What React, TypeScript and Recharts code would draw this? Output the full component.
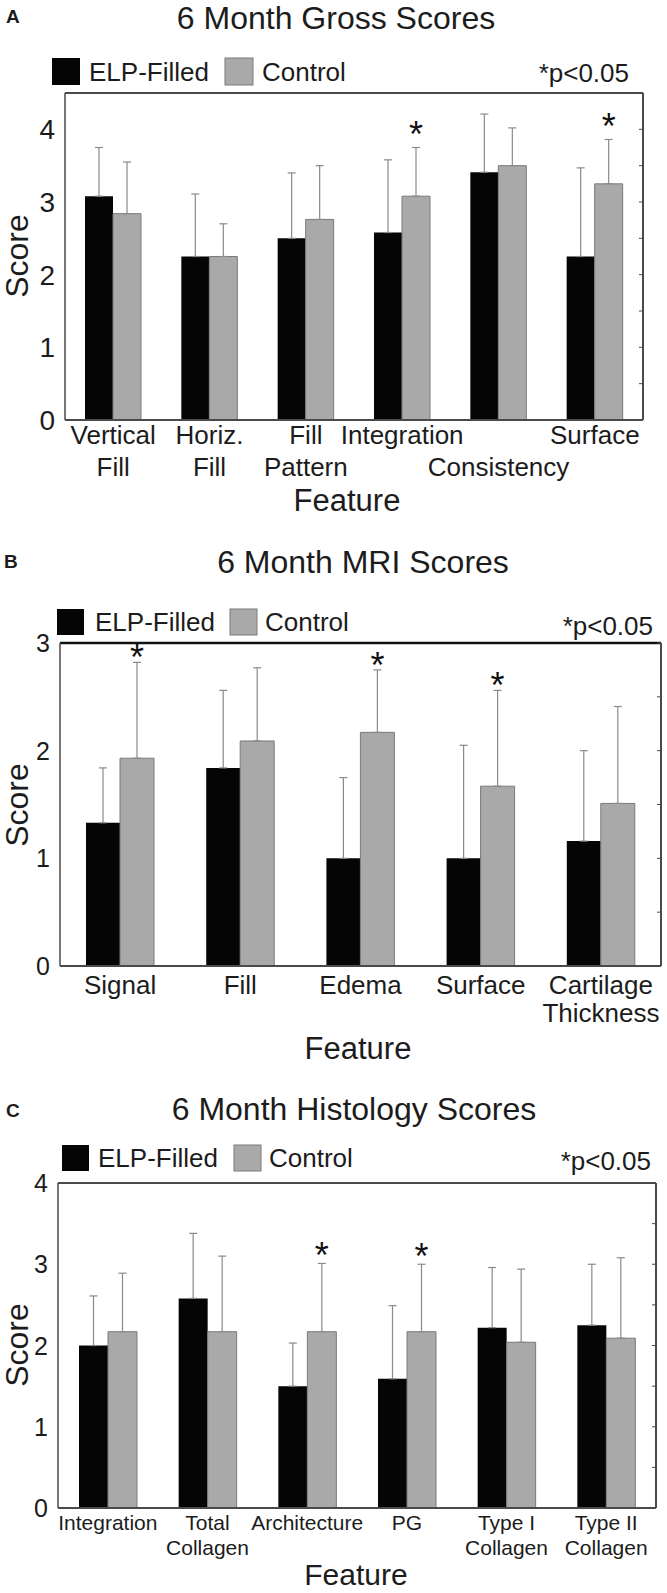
import { BarChart, Bar, XAxis, YAxis, ErrorBar, LabelList } from "recharts";

const FONT = '"Liberation Sans", Arial, Helvetica, sans-serif';
const INK = "#1c1c1c";
const BLACK = "#050505";
const GRAY = "#a9a9a9";
const GRAY_EDGE = "#7a7a7a";
const ERR = "#8a8a8a";
const FRAME = "#4a4a4a";

// A - gross scores
const GROSS_FEATURES = ["Vertical Fill", "Horiz. Fill", "Fill Pattern", "Integration", "Consistency", "Surface"];
const GROSS_LABELS = [["Vertical", "Fill"], ["Horiz.", "Fill"], ["Fill", "Pattern"], ["Integration"], ["", "Consistency"], ["Surface"]];
const GROSS_ELP = [3.08, 2.25, 2.5, 2.58, 3.41, 2.25];
const GROSS_ELP_SD = [0.67, 0.86, 0.9, 1.0, 0.8, 1.22];
const GROSS_CTRL = [2.84, 2.25, 2.76, 3.08, 3.5, 3.25];
const GROSS_CTRL_SD = [0.71, 0.45, 0.74, 0.67, 0.52, 0.61];
const GROSS_SIG = [false, false, false, true, false, true];
const GROSS_TICKS = [0, 0.5, 1, 1.5, 2, 2.5, 3, 3.5, 4, 4.5];

// B - MRI scores
const MRI_FEATURES = ["Signal", "Fill", "Edema", "Surface", "Cartilage Thickness"];
const MRI_LABELS = [["Signal"], ["Fill"], ["Edema"], ["Surface"], ["Cartilage", "Thickness"]];
const MRI_ELP = [1.33, 1.84, 1.0, 1.0, 1.16];
const MRI_ELP_SD = [0.51, 0.72, 0.75, 1.05, 0.84];
const MRI_CTRL = [1.93, 2.09, 2.17, 1.67, 1.51];
const MRI_CTRL_SD = [0.89, 0.68, 0.58, 0.89, 0.9];
const MRI_SIG = [true, false, true, true, false];
const MRI_TICKS = [0, 0.5, 1, 1.5, 2, 2.5, 3];

// C - histology scores
const HISTO_FEATURES = ["Integration", "Total Collagen", "Architecture", "PG", "Type I Collagen", "Type II Collagen"];
const HISTO_LABELS = [["Integration"], ["Total", "Collagen"], ["Architecture"], ["PG"], ["Type I", "Collagen"], ["Type II", "Collagen"]];
const HISTO_ELP = [2.0, 2.58, 1.5, 1.59, 2.22, 2.25];
const HISTO_ELP_SD = [0.61, 0.8, 0.53, 0.9, 0.74, 0.75];
const HISTO_CTRL = [2.17, 2.17, 2.17, 2.17, 2.04, 2.09];
const HISTO_CTRL_SD = [0.72, 0.93, 0.84, 0.83, 0.9, 0.99];
const HISTO_SIG = [false, false, true, true, false, false];
const HISTO_TICKS = [0, 0.5, 1, 1.5, 2, 2.5, 3, 3.5, 4];

type Panel = {
  letter: string;
  title: string;
  features: string[];
  labels: string[][];
  elp: number[];
  elpSd: number[];
  ctrl: number[];
  ctrlSd: number[];
  sig: boolean[];
  ticks: number[];
  // layout (page px)
  top: number;
  height: number;
  plotLeft: number;
  plotRight: number;
  plotTop: number;
  plotBottom: number;
  barSize: number;
  yFont: number;
  xFont: number;
  xLine1: number;
  xLineGap: number;
  starDy: number;
  topStroke: string;
  topWidth: number;
  titleX: number;
  titleY: number;
  letterX: number;
  letterY: number;
  legX: number;
  legY: number;
  legW: number;
  legH: number;
  legText1: number;
  legGray: number;
  legText2: number;
  legBase: number;
  pX: number;
  pY: number;
  scoreY: number;
  featX: number;
  featY: number;
  featFont: number;
};

const PANELS: Panel[] = [
  {
    letter: "A", title: "6 Month Gross Scores",
    features: GROSS_FEATURES, labels: GROSS_LABELS,
    elp: GROSS_ELP, elpSd: GROSS_ELP_SD, ctrl: GROSS_CTRL, ctrlSd: GROSS_CTRL_SD,
    sig: GROSS_SIG, ticks: GROSS_TICKS,
    top: 0, height: 520, plotLeft: 65, plotRight: 642, plotTop: 93, plotBottom: 420,
    barSize: 28, yFont: 28, xFont: 26, xLine1: 24, xLineGap: 32, starDy: -1,
    topStroke: FRAME, topWidth: 2,
    titleX: 336, titleY: 29, letterX: 6, letterY: 23,
    legX: 52, legY: 58, legW: 28, legH: 27, legText1: 89, legGray: 225, legText2: 262, legBase: 81,
    pX: 629, pY: 82, scoreY: 256, featX: 347, featY: 511, featFont: 31,
  },
  {
    letter: "B", title: "6 Month MRI Scores",
    features: MRI_FEATURES, labels: MRI_LABELS,
    elp: MRI_ELP, elpSd: MRI_ELP_SD, ctrl: MRI_CTRL, ctrlSd: MRI_CTRL_SD,
    sig: MRI_SIG, ticks: MRI_TICKS,
    top: 520, height: 540, plotLeft: 60, plotRight: 660, plotTop: 643, plotBottom: 966,
    barSize: 34, yFont: 25, xFont: 26, xLine1: 28, xLineGap: 28, starDy: 8,
    topStroke: "#111", topWidth: 2.5,
    titleX: 363, titleY: 573, letterX: 4, letterY: 568,
    legX: 57, legY: 609, legW: 27, legH: 26, legText1: 95, legGray: 230, legText2: 265, legBase: 631,
    pX: 653, pY: 635, scoreY: 805, featX: 358, featY: 1059, featFont: 31,
  },
  {
    letter: "C", title: "6 Month Histology Scores",
    features: HISTO_FEATURES, labels: HISTO_LABELS,
    elp: HISTO_ELP, elpSd: HISTO_ELP_SD, ctrl: HISTO_CTRL, ctrlSd: HISTO_CTRL_SD,
    sig: HISTO_SIG, ticks: HISTO_TICKS,
    top: 1060, height: 533, plotLeft: 58, plotRight: 655, plotTop: 1183, plotBottom: 1508,
    barSize: 29, yFont: 25, xFont: 21, xLine1: 22, xLineGap: 25, starDy: 5,
    topStroke: FRAME, topWidth: 2,
    titleX: 354, titleY: 1120, letterX: 6, letterY: 1117,
    legX: 62, legY: 1145, legW: 27, legH: 26, legText1: 98, legGray: 234, legText2: 269, legBase: 1167,
    pX: 651, pY: 1170, scoreY: 1345, featX: 356, featY: 1585, featFont: 30,
  },
];

function PanelChart({ p }: { p: Panel }) {
  const data = p.features.map((f, i) => ({
    feature: f,
    elp: p.elp[i],
    ctrl: p.ctrl[i],
    elpErr: [0, p.elpSd[i]],
    ctrlErr: [0, p.ctrlSd[i]],
  }));
  const yMax = p.ticks[p.ticks.length - 1];

  const xTick = (props: any) => {
    const { x, y, payload } = props;
    const i = p.features.indexOf(payload.value);
    const lines = p.labels[i] || [];
    return (
      <g>
        {lines.map((t, k) => (
          <text key={k} x={x} y={y + p.xLine1 + k * p.xLineGap} textAnchor="middle"
            fontSize={p.xFont} fontFamily={FONT} fill={INK}>
            {t}
          </text>
        ))}
      </g>
    );
  };

  const yTick = (props: any) => {
    const { x, y, payload } = props;
    if (!Number.isInteger(payload.value)) return <g />;
    return (
      <text x={x - 10} y={y + p.yFont * 0.36} textAnchor="end" fontSize={p.yFont} fontFamily={FONT} fill={INK}>
        {payload.value}
      </text>
    );
  };

  const star = (props: any) => {
    const { x, y, width, height, value } = props;
    const i = p.features.indexOf(value);
    if (i < 0 || !p.sig[i]) return null;
    const perUnit = Number(height) / p.ctrl[i];
    const errTop = Number(y) - p.ctrlSd[i] * perUnit;
    return (
      <text x={Number(x) + Number(width) / 2} y={errTop + p.starDy} textAnchor="middle"
        fontSize={36} fontFamily={FONT} fill="#111">
        *
      </text>
    );
  };

  const chartH = p.height;
  const plotTopLocal = p.plotTop - p.top;
  const plotBottomLocal = p.plotBottom - p.top;

  return (
    <div style={{ position: "absolute", left: 0, top: p.top, width: 667, height: chartH }}>
      <BarChart
        width={667}
        height={chartH}
        data={data}
        barGap={0}
        margin={{ top: plotTopLocal - 1, right: 667 - p.plotRight - 1, left: 0, bottom: 0 }}
      >
        <XAxis
          dataKey="feature"
          height={chartH - plotBottomLocal}
          tickSize={0}
          tickMargin={0}
          tickLine={false}
          axisLine={{ stroke: FRAME, strokeWidth: 2 }}
          tick={xTick}
          interval={0}
        />
        <XAxis
          xAxisId="t"
          orientation="top"
          dataKey="feature"
          height={1}
          tick={false}
          tickLine={false}
          axisLine={{ stroke: p.topStroke, strokeWidth: p.topWidth }}
        />
        <YAxis
          type="number"
          domain={[0, yMax]}
          ticks={p.ticks}
          allowDataOverflow
          width={p.plotLeft}
          tickSize={0}
          tickMargin={0}
          tickLine={false}
          axisLine={{ stroke: FRAME, strokeWidth: 1.5 }}
          tick={yTick}
          interval={0}
        />
        <YAxis
          yAxisId="r"
          orientation="right"
          type="number"
          domain={[0, yMax]}
          ticks={p.ticks}
          allowDataOverflow
          width={1}
          mirror
          tickSize={4}
          tick={() => <g />}
          interval={0}
          tickLine={{ stroke: FRAME }}
          axisLine={{ stroke: FRAME, strokeWidth: 2 }}
        />
        <Bar dataKey="elp" fill={BLACK} barSize={p.barSize} isAnimationActive={false}>
          <ErrorBar dataKey="elpErr" width={4} stroke={ERR} strokeWidth={1.2} direction="y" isAnimationActive={false} />
        </Bar>
        <Bar dataKey="ctrl" fill={GRAY} stroke={GRAY_EDGE} strokeWidth={1} barSize={p.barSize} isAnimationActive={false}>
          <ErrorBar dataKey="ctrlErr" width={4} stroke={ERR} strokeWidth={1.2} direction="y" isAnimationActive={false} />
          <LabelList dataKey="feature" content={star} />
        </Bar>
      </BarChart>
    </div>
  );
}

function PanelText({ p }: { p: Panel }) {
  return (
    <g fontFamily={FONT} fill={INK}>
      <text x={p.letterX} y={p.letterY} fontSize={19} fontWeight="bold">{p.letter}</text>
      <text x={p.titleX} y={p.titleY} fontSize={32} textAnchor="middle">{p.title}</text>
      <rect x={p.legX} y={p.legY} width={p.legW} height={p.legH} fill={BLACK} />
      <text x={p.legText1} y={p.legBase} fontSize={26}>ELP-Filled</text>
      <rect x={p.legGray} y={p.legY} width={p.legW} height={p.legH} fill={GRAY} stroke={GRAY_EDGE} strokeWidth={1} />
      <text x={p.legText2} y={p.legBase} fontSize={26}>Control</text>
      <text x={p.pX} y={p.pY} fontSize={26} textAnchor="end">*p&lt;0.05</text>
      <text
        x={17}
        y={p.scoreY}
        fontSize={32}
        textAnchor="middle"
        dominantBaseline="central"
        transform={`rotate(-90 17 ${p.scoreY})`}
      >
        Score
      </text>
      <text x={p.featX} y={p.featY} fontSize={p.featFont} textAnchor="middle">Feature</text>
    </g>
  );
}

export default function App() {
  return (
    <div style={{ position: "relative", width: 667, height: 1593, background: "#fff", overflow: "hidden" }}>
      <style>{"body{margin:0}"}</style>
      {PANELS.map((p) => (
        <PanelChart key={p.letter} p={p} />
      ))}
      <svg width={667} height={1593} style={{ position: "absolute", left: 0, top: 0, pointerEvents: "none" }}>
        {PANELS.map((p) => (
          <PanelText key={p.letter} p={p} />
        ))}
      </svg>
    </div>
  );
}
